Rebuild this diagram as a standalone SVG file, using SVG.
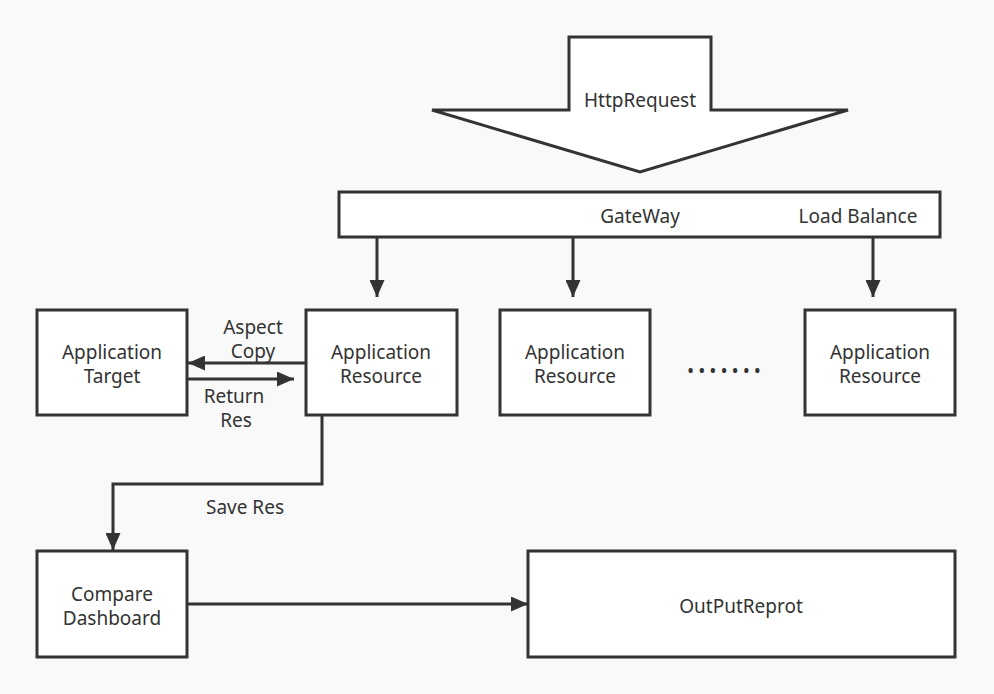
<svg xmlns="http://www.w3.org/2000/svg" width="994" height="694" viewBox="0 0 994 694">
<style>
.box{fill:#ffffff;stroke:#333333;stroke-width:3}
.ln{fill:none;stroke:#333333;stroke-width:3}
text{font-family:"Noto Sans","Open Sans","Liberation Sans",sans-serif;font-size:19px;fill:#333333;text-anchor:middle}
</style>
<defs>
<marker id="ah" viewBox="0 0 17 15" markerWidth="17" markerHeight="15" refX="17" refY="7.5" orient="auto" markerUnits="userSpaceOnUse">
<path d="M0,0 L17,7.5 L0,15 z" fill="#333333"/>
</marker>
</defs>
<rect width="994" height="694" fill="#f9f9f9"/>
<g id="httprequest">
<path class="box" d="M569,37 L711,37 L711,110 L848,110 L640,172 L432,110 L569,110 Z"/>
<text x="640" y="107">HttpRequest</text>
</g>
<g id="gateway">
<rect class="box" x="339" y="192" width="601" height="45"/>
<text x="640" y="223">GateWay</text>
<text x="858" y="223">Load Balance</text>
</g>
<g id="target">
<rect class="box" x="37" y="310" width="150" height="105"/>
<text x="112" y="359">Application</text>
<text x="112" y="383">Target</text>
</g>
<g id="resource1">
<rect class="box" x="306" y="310" width="151" height="105"/>
<text x="381" y="359">Application</text>
<text x="381" y="383">Resource</text>
</g>
<g id="resource2">
<rect class="box" x="500" y="310" width="150" height="105"/>
<text x="575" y="359">Application</text>
<text x="575" y="383">Resource</text>
</g>
<g id="dots">
<text x="726" y="378" style="letter-spacing:4px">•••••••</text>
</g>
<g id="resource3">
<rect class="box" x="805" y="310" width="150" height="105"/>
<text x="880" y="359">Application</text>
<text x="880" y="383">Resource</text>
</g>
<g id="compare">
<rect class="box" x="37" y="551" width="150" height="106"/>
<text x="112" y="601">Compare</text>
<text x="112" y="625">Dashboard</text>
</g>
<g id="report">
<rect class="box" x="528" y="551" width="427" height="106"/>
<text x="741" y="613">OutPutReprot</text>
</g>
<g id="connectors">
<line class="ln" x1="377" y1="237" x2="377" y2="297" marker-end="url(#ah)"/>
<line class="ln" x1="573" y1="237" x2="573" y2="297" marker-end="url(#ah)"/>
<line class="ln" x1="873" y1="237" x2="873" y2="297" marker-end="url(#ah)"/>
<line class="ln" x1="306" y1="363" x2="188" y2="363" marker-end="url(#ah)"/>
<line class="ln" x1="187" y1="379" x2="294" y2="379" marker-end="url(#ah)"/>
<path class="ln" d="M322,415 L322,484 L113,484 L113,550" marker-end="url(#ah)"/>
<line class="ln" x1="187" y1="604" x2="528" y2="604" marker-end="url(#ah)"/>
<text x="253" y="334">Aspect</text>
<text x="253" y="358">Copy</text>
<text x="234" y="403">Return</text>
<text x="236" y="427">Res</text>
<text x="245" y="514">Save Res</text>
</g>
</svg>
